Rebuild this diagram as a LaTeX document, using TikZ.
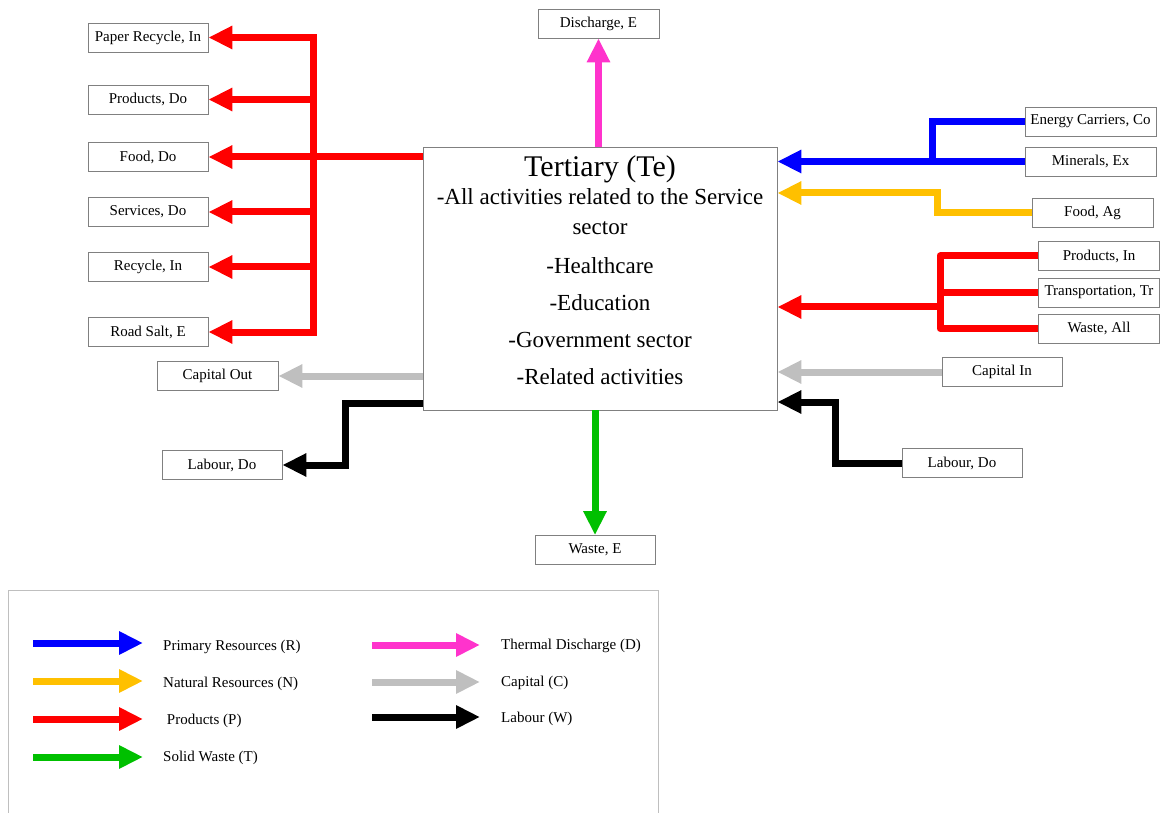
\documentclass[tikz,border=0pt]{standalone}
\usepackage{fontspec}
\setmainfont{Liberation Serif}
\usetikzlibrary{arrows.meta}

\definecolor{flowred}{RGB}{255,0,0}
\definecolor{flowblue}{RGB}{0,0,255}
\definecolor{flowyellow}{RGB}{255,192,0}
\definecolor{flowpink}{RGB}{255,51,204}
\definecolor{flowgreen}{RGB}{0,192,0}
\definecolor{flowgrey}{RGB}{191,191,191}
\definecolor{boxedge}{RGB}{128,128,128}

\tikzset{
  flow/.style={line width=7pt},
  tip/.style={-{Triangle[length=24pt,width=22pt]}},
  sbox/.style={draw=boxedge, line width=0.8pt, fill=white, minimum height=29pt,
               minimum width=120pt, inner sep=0pt, font=\fontsize{15}{18}\selectfont},
  maintext/.style={anchor=base, inner sep=0pt, font=\fontsize{23}{28}\selectfont},
  legtext/.style={anchor=west, inner sep=0pt, font=\fontsize{15}{18}\selectfont},
}

\begin{document}
\begin{tikzpicture}[x=1pt,y=-1pt]
\useasboundingbox (0,0) rectangle (1160,813);

% central sector box
\node[draw=boxedge, line width=0.8pt, minimum width=354pt, minimum height=263pt, inner sep=0pt]
  (te) at (600,278.5) {};
\node[anchor=base, inner sep=0pt, font=\fontsize{30}{36}\selectfont] (title) at (600,177) {Tertiary (Te)};
\node[maintext] (l1) at (600,205) {-All activities related to the Service};
\node[maintext] (l2) at (600,235) {sector};
\node[maintext] (l3) at (600,273) {-Healthcare};
\node[maintext] (l4) at (600,310) {-Education};
\node[maintext] (l5) at (600,347) {-Government sector};
\node[maintext] (l6) at (600,384) {-Related activities};

% outputs on the left
\node[sbox] (paper)  at (148,37.5)  {Paper Recycle, In};
\node[sbox] (prodDo) at (148,99.5)  {Products, Do};
\node[sbox] (foodDo) at (148,157)   {Food, Do};
\node[sbox] (servDo) at (148,212)   {Services, Do};
\node[sbox] (recyIn) at (148,267)   {Recycle, In};
\node[sbox] (salt)   at (148,332)   {Road Salt, E};
\node[sbox, minimum width=121pt] (capOut) at (217.5,376) {Capital Out};
\node[sbox] (labL)   at (222,465)   {Labour, Do};

% outputs above and below
\node[sbox, minimum width=121pt] (disch) at (598.5,23.5) {Discharge, E};
\node[sbox] (wasteE) at (595,550) {Waste, E};

% inputs on the right
\node[sbox, minimum width=131pt] (energy)   at (1090.5,121.5) {Energy Carriers, Co};
\node[sbox, minimum width=131pt] (minerals) at (1090.5,161.5) {Minerals, Ex};
\node[sbox, minimum width=121pt] (foodAg)   at (1092.5,212.5) {Food, Ag};
\node[sbox, minimum width=121pt] (prodIn)   at (1099,256)     {Products, In};
\node[sbox, minimum width=121pt] (trans)    at (1099,292.5)   {Transportation, Tr};
\node[sbox, minimum width=121pt] (wasteAll) at (1099,328.5)   {Waste, All};
\node[sbox] (capIn) at (1002,372) {Capital In};
\node[sbox] (labR)  at (962,463)  {Labour, Do};

% junction points of the flow lines
\coordinate (ltrunk) at (313,0);
\coordinate (bj) at (932,0);
\coordinate (yj) at (937,193);
\coordinate (rtrunk) at (940,0);
\coordinate (rj) at (940,307);
\coordinate (lrj) at (835,402);
\coordinate (llj) at (345,403);

% products leaving (red)
\draw[flow, flowred, tip] (ltrunk |- salt.east) -- (ltrunk |- paper.east) -- (paper.east);
\draw[flow, flowred, tip] (ltrunk |- paper.east) -- (ltrunk |- salt.east) -- (salt.east);
\draw[flow, flowred, tip] (ltrunk |- prodDo.east) -- (prodDo.east);
\draw[flow, flowred, tip] (te.west |- foodDo.east) -- (foodDo.east);
\draw[flow, flowred, tip] (ltrunk |- servDo.east) -- (servDo.east);
\draw[flow, flowred, tip] (ltrunk |- recyIn.east) -- (recyIn.east);

% capital and labour leaving
\draw[flow, flowgrey, tip] (te.west |- capOut.east) -- (capOut.east);
\draw[flow, black, tip] (te.west |- llj) -- (llj) |- (labL.east);

% discharge and waste
\draw[flow, flowpink, tip] (disch.south |- te.north) -- (disch.south);
\draw[flow, flowgreen, tip] (wasteE.north |- te.south) -- (wasteE.north);

% primary resources (blue)
\draw[flow, flowblue] (energy.west) -| (bj |- minerals.west);
\draw[flow, flowblue, tip] (minerals.west) -- (te.east |- minerals.west);

% natural resources (yellow)
\draw[flow, flowyellow, tip] (foodAg.west) -| (yj) -- (te.east |- yj);

% products arriving (red)
\draw[flow, flowred, line join=round] (prodIn.west) -| (rtrunk |- wasteAll.west) -- (wasteAll.west);
\draw[flow, flowred] (trans.west) -- (rtrunk |- trans.west);
\draw[flow, flowred, tip] (rj) -- (te.east |- rj);

% capital and labour arriving
\draw[flow, flowgrey, tip] (capIn.west) -- (te.east |- capIn.west);
\draw[flow, black, tip] (labR.west) -| (lrj) -- (te.east |- lrj);

% legend
\node[draw=flowgrey, line width=1.2pt, minimum width=650pt, minimum height=240pt,
      anchor=north west, inner sep=0pt] (legend) at (8,590) {};
\node[legtext] (lgR) at (163,647) {Primary Resources (R)};
\node[legtext] (lgN) at (163,684) {Natural Resources (N)};
\node[legtext] (lgP) at (163,721) {\ Products (P)};
\node[legtext] (lgT) at (163,758) {Solid Waste (T)};
\node[legtext] (lgD) at (501,646) {Thermal Discharge (D)};
\node[legtext] (lgC) at (501,683) {Capital (C)};
\node[legtext] (lgW) at (501,719) {Labour (W)};

\draw[flow, flowblue, tip]   ([xshift=-130pt,yshift=4pt]lgR.west) -- ([xshift=-20pt,yshift=4pt]lgR.west);
\draw[flow, flowyellow, tip] ([xshift=-130pt,yshift=3pt]lgN.west) -- ([xshift=-20pt,yshift=3pt]lgN.west);
\draw[flow, flowred, tip]    ([xshift=-130pt,yshift=2pt]lgP.west) -- ([xshift=-20pt,yshift=2pt]lgP.west);
\draw[flow, flowgreen, tip]  ([xshift=-130pt,yshift=1pt]lgT.west) -- ([xshift=-20pt,yshift=1pt]lgT.west);
\draw[flow, flowpink, tip]   ([xshift=-129pt,yshift=1pt]lgD.west) -- ([xshift=-21pt,yshift=1pt]lgD.west);
\draw[flow, flowgrey, tip]   ([xshift=-129pt,yshift=1pt]lgC.west) -- ([xshift=-21pt,yshift=1pt]lgC.west);
\draw[flow, black, tip]      ([xshift=-129pt,yshift=2pt]lgW.west) -- ([xshift=-21pt,yshift=2pt]lgW.west);
\end{tikzpicture}
\end{document}
